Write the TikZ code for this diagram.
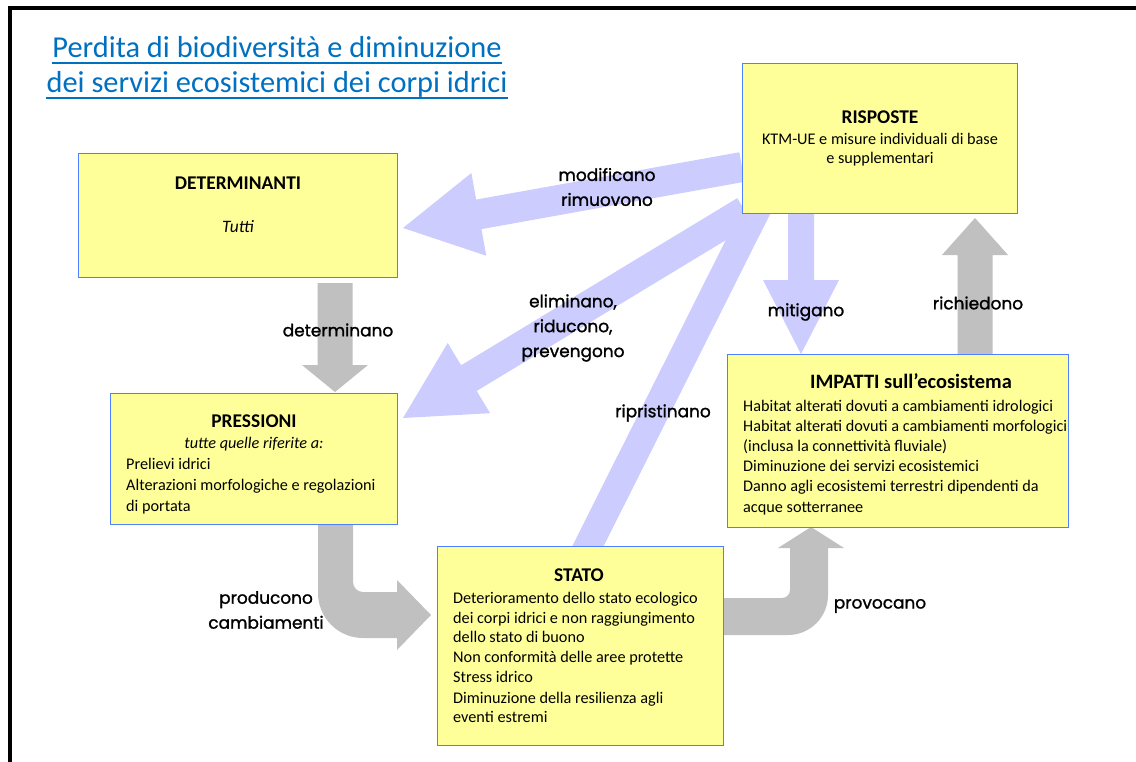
\documentclass[tikz,border=0pt]{standalone}
\usepackage{fontspec}
\setmainfont{Carlito}
\newfontfamily\labelfont[FakeBold=1.3]{Poppins}
\usetikzlibrary{calc}

\definecolor{boxfill}{RGB}{255,255,153}
\definecolor{boxline}{RGB}{79,129,255}
\definecolor{titleblue}{RGB}{0,112,192}
\definecolor{grayarrow}{RGB}{192,192,192}
\definecolor{bluearrow}{RGB}{204,204,255}

% straight block arrow: style, from, to, shaft half width, head half width, head length
\newcommand\blockarrow[6]{%
  \pgfpointdiff{\pgfpointanchor{#2}{center}}{\pgfpointanchor{#3}{center}}%
  \pgfgetlastxy{\bax}{\bay}%
  \pgfmathsetmacro\bang{atan2(\bay,\bax)}%
  \pgfmathsetmacro\blen{veclen(\bax,\bay)}%
  \fill[#1, shift={(#2)}, rotate=\bang]
    (0pt,#4bp) -- (\blen pt-#6bp,#4bp) -- (\blen pt-#6bp,#5bp) -- (\blen pt,0pt)
    -- (\blen pt-#6bp,-#5bp) -- (\blen pt-#6bp,-#4bp) -- (0pt,-#4bp) -- cycle;
}

\tikzset{
  box/.style={draw=boxline, fill=boxfill, line width=1.3bp, anchor=north west, inner sep=0pt},
  boxhead/.style={font=\fontsize{19.5}{22}\selectfont\bfseries, anchor=base, inner sep=0pt},
  item/.style={font=\fontsize{16.3}{19}\selectfont, anchor=base west, inner sep=0pt},
  itemc/.style={font=\fontsize{16.3}{19}\selectfont, anchor=base, inner sep=0pt},
  lbl/.style={font=\labelfont\fontsize{17}{25}\selectfont, align=center, inner sep=0pt},
  titletext/.style={font=\fontsize{30.5}{36}\selectfont, text=titleblue, anchor=base, inner sep=0pt},
  uline/.style={draw=titleblue, line width=1.8bp},
}

\begin{document}
\begin{tikzpicture}[x=1bp, y=-1bp]
\useasboundingbox (0,0) rectangle (1136,762);
\fill[white] (0,0) rectangle (1136,762);

% frame: left rule and top rule as solid bands
\fill[black] (8.25,6.25) rectangle (11.75,762);
\fill[black] (8.25,6.25) rectangle (1136,9.75);

% title
\node[titletext] (t1) at (277,58) {Perdita di biodiversità e diminuzione};
\node[titletext] (t2) at (277,93) {dei servizi ecosistemici dei corpi idrici};
\draw[uline] ($(t1.base west)+(0,5)$) -- ($(t1.base east)+(0,5)$);
\draw[uline] ($(t2.base west)+(0,5)$) -- ($(t2.base east)+(0,5)$);

% end points of the block arrows
\coordinate (modA) at (742,167);  \coordinate (modB) at (403,228);
\coordinate (eliA) at (745,211);  \coordinate (eliB) at (403,418);
\coordinate (ripA) at (759,205);  \coordinate (ripB) at (581,560);
\coordinate (mitA) at (801,205);  \coordinate (mitB) at (801,354);
\coordinate (detA) at (335,283);  \coordinate (detB) at (335,392);
\coordinate (ricA) at (975,360);  \coordinate (ricB) at (975,218);

% response arrows
\blockarrow{bluearrow}{modA}{modB}{15}{42}{77}
\blockarrow{bluearrow}{eliA}{eliB}{15}{41}{77}
\blockarrow{bluearrow}{ripA}{ripB}{14}{14}{0}
\blockarrow{bluearrow}{mitA}{mitB}{13}{38}{74}

% causal chain arrows
\blockarrow{grayarrow}{detA}{detB}{17.5}{33}{27}
\blockarrow{grayarrow}{ricA}{ricB}{17.5}{33}{37}

% pressioni -> stato (bent)
\fill[grayarrow] (318,515) -- (318,593) arc[start angle=180, end angle=90, radius=45]
  -- (397,638) -- (397,650) -- (431,615) -- (397,580) -- (397,592) -- (363,592)
  arc[start angle=90, end angle=180, radius=10] -- (353,515) -- cycle;

% stato -> impatti (bent)
\fill[grayarrow] (715,598) -- (782,598) arc[start angle=90, end angle=0, radius=8]
  -- (790,548) -- (778,548) -- (811,527) -- (844,548) -- (828,548) -- (828,595)
  arc[start angle=0, end angle=90, radius=40] -- (715,635) -- cycle;

% boxes
\node[box, minimum width=319bp, minimum height=124bp] (det) at (78,153) {};
\node[box, minimum width=275bp, minimum height=150bp] (risp) at (742,63) {};
\node[box, minimum width=287bp, minimum height=131bp] (pres) at (110,393) {};
\node[box, minimum width=286bp, minimum height=199bp] (stato) at (437,546) {};
\node[box, minimum width=341bp, minimum height=173bp] (imp) at (727,354) {};

% DETERMINANTI
\node[boxhead] (detH) at (238,189) {DETERMINANTI};
\node[itemc, font=\fontsize{17.5}{19}\selectfont\itshape] (detT) at (238,232) {Tutti};

% RISPOSTE
\node[boxhead] (rispH) at (880,123) {RISPOSTE};
\node[itemc] (risp1) at (880,144) {KTM-UE e misure individuali di base};
\node[itemc] (risp2) at (880,163) {e supplementari};

% PRESSIONI
\node[boxhead] (presH) at (254,427) {PRESSIONI};
\node[itemc, font=\fontsize{16.3}{19}\selectfont\itshape] (presS) at (254,448) {tutte quelle riferite a:};
\node[item] (pres1) at (126,469) {Prelievi idrici};
\node[item] (pres2) at (126,490) {Alterazioni morfologiche e regolazioni};
\node[item] (pres3) at (126,511) {di portata};

% STATO
\node[boxhead] (statoH) at (579,581) {STATO};
\node[item] (st1) at (453,603) {Deterioramento dello stato ecologico};
\node[item] (st2) at (453,623) {dei corpi idrici e non raggiungimento};
\node[item] (st3) at (453,642) {dello stato di buono};
\node[item] (st4) at (453,662) {Non conformità delle aree protette};
\node[item] (st5) at (453,682) {Stress idrico};
\node[item] (st6) at (453,703) {Diminuzione della resilienza agli};
\node[item] (st7) at (453,722) {eventi estremi};

% IMPATTI
\node[boxhead, font=\fontsize{20.5}{23}\selectfont\bfseries] (impH) at (911,388) {IMPATTI sull’ecosistema};
\node[item] (im1) at (743,411) {Habitat alterati dovuti a cambiamenti idrologici};
\node[item] (im2) at (743,431) {Habitat alterati dovuti a cambiamenti morfologici};
\node[item] (im3) at (743,451) {(inclusa la connettività fluviale)};
\node[item] (im4) at (743,471) {Diminuzione dei servizi ecosistemici};
\node[item] (im5) at (743,491) {Danno agli ecosistemi terrestri dipendenti da};
\node[item] (im6) at (743,512) {acque sotterranee};

% arrow labels
\node[lbl] (lmod) at (607,187) {modificano\\rimuovono};
\node[lbl] (leli) at (573,328) {eliminano,\\riducono,\\prevengono};
\node[lbl] (lrip) at (663,413) {ripristinano};
\node[lbl] (ldet) at (338,330) {determinano};
\node[lbl] (lmit) at (806,312) {mitigano};
\node[lbl] (lric) at (978,303) {richiedono};
\node[lbl] (lpro) at (266,610) {producono\\cambiamenti};
\node[lbl] (lprv) at (880,606) {provocano};
\end{tikzpicture}
\end{document}
